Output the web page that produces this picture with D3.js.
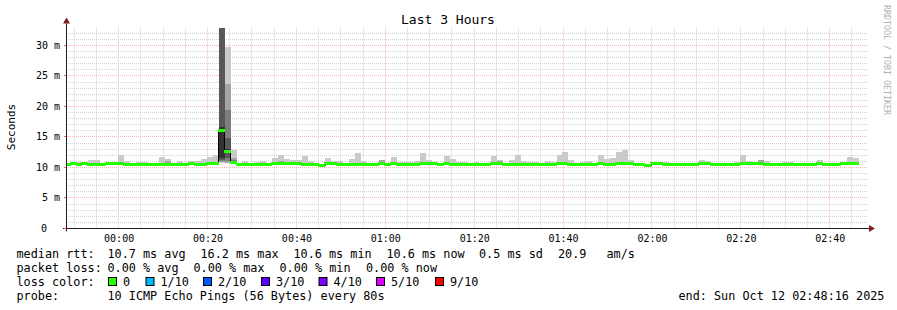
<!DOCTYPE html>
<html>
<head>
<meta charset="utf-8">
<script src="https://cdn.jsdelivr.net/npm/d3@7"></script>
<style>
body { margin: 0; background: #fff; }
text { font-family: "DejaVu Sans Mono", monospace; fill: #000; }
</style>
</head>
<body>
<div id="chart"></div>
<script>
const width = 897, height = 310;
const plot = {left: 66, right: 866, top: 27.5, bottom: 228.5};

// time window and rrd steps
const startTime = new Date(Date.UTC(2025, 9, 11, 23, 48, 16));
const endTime = new Date(Date.UTC(2025, 9, 12, 2, 48, 16));
const firstStep = new Date(Date.UTC(2025, 9, 11, 23, 47, 58));
const stepSeconds = 80;
const yMax = 32.95;

// median rtt per step (ms)
const median = [
  10.6,10.8,10.6,10.8,10.6,10.6,10.6,10.8,10.8,10.8,
  10.6,10.6,10.6,10.6,10.6,10.6,10.6,10.6,10.6,10.6,
  10.6,10.8,10.6,10.6,10.8,10.8,16.2,12.7,10.9,10.6,
  10.6,10.6,10.6,10.6,10.6,10.8,10.8,10.8,10.8,10.8,
  10.6,10.6,10.6,10.4,10.8,10.8,10.6,10.6,10.6,10.6,
  10.6,10.6,10.6,10.8,10.6,10.8,10.6,10.6,10.6,10.6,
  10.8,10.8,10.8,10.6,10.8,10.6,10.6,10.6,10.6,10.6,
  10.6,10.6,10.8,10.8,10.6,10.6,10.6,10.6,10.6,10.6,
  10.6,10.6,10.6,10.8,10.8,10.6,10.6,10.6,10.6,10.6,
  10.8,10.6,10.6,10.8,10.8,10.8,10.6,10.6,10.4,10.8,
  10.8,10.6,10.6,10.6,10.6,10.6,10.6,10.8,10.8,10.6,
  10.6,10.6,10.6,10.6,10.8,10.8,10.8,10.8,10.6,10.6,
  10.6,10.6,10.6,10.6,10.6,10.6,10.6,10.8,10.6,10.6,
  10.6,10.8,10.8,10.8
];

// highest ping per step (ms), top of the smoke
const maxPing = [
  10.7,10.9,10.9,10.9,11.25,11.3,10.8,10.9,10.9,12.0,
  11.1,10.8,10.9,10.9,10.7,10.7,11.8,11.4,10.8,11.1,
  10.8,11.0,11.1,11.4,11.8,12.0,32.95,29.8,12.9,10.7,
  11.0,10.7,10.9,11.0,10.8,11.6,12.0,11.4,11.25,11.3,
  11.9,11.1,10.7,10.6,11.6,11.0,11.1,10.8,11.4,12.45,
  11.1,10.8,10.7,11.3,10.8,11.7,10.9,10.9,10.9,11.1,
  12.3,11.3,10.8,10.8,11.9,11.4,10.9,10.9,10.7,10.9,
  10.7,10.8,11.9,11.3,10.8,11.3,12.1,11.1,10.9,10.9,
  10.7,11.1,10.9,12.0,12.5,11.3,10.7,10.9,11.1,10.7,
  12.1,11.4,11.5,12.6,12.8,11.3,10.8,10.7,10.6,10.8,
  10.8,10.9,10.7,10.7,10.7,10.7,10.7,11.3,11.1,10.7,
  10.8,10.7,10.7,10.9,12.0,11.1,10.8,11.3,11.1,10.7,
  10.7,10.9,10.9,10.7,10.7,10.7,10.7,11.3,10.8,10.7,
  10.7,10.9,11.7,11.6
];

// second highest ping where it shows as darker smoke [step, ms]
const secondPing = [[17, 11.0], [36, 11.1], [53, 11.3], [73, 11.0], [117, 11.2]];

// all ten sorted pings for the spike steps
const spikePings = {
  26: [10.7, 10.9, 11.1, 11.3, 11.6, 16.6, 40, 45, 50, 60],
  27: [10.7, 10.8, 11.0, 11.6, 12.4, 13.0, 14.8, 19.5, 23.7, 29.8],
  28: [10.7, 10.8, 10.8, 10.9, 10.9, 11.0, 11.1, 11.3, 11.6, 12.9]
};

const yTicks = [0, 5, 10, 15, 20, 25, 30];
const lossLabels = ["0", "1/10", "2/10", "3/10", "4/10", "5/10", "9/10"];
const lossColors = ["#26ff00", "#00b8ff", "#0059ff", "#5e00ff", "#7e00ff", "#dd00ff", "#ff0000"];
const smokeShades = ["#cacaca", "#a4a4a4", "#7e7e7e", "#585858", "#323232"];

const legendRows = [
  [["median rtt:", 16.5], ["10.7 ms avg", 107.5], ["16.2 ms max", 200.5], ["10.6 ms min", 293.5],
   ["10.6 ms now", 386.5], ["0.5 ms sd", 479], ["20.9", 558], ["am/s", 606.5]],
  [["packet loss:", 16.5], ["0.00 % avg", 107.5], ["0.00 % max", 193.5], ["0.00 % min", 279.5], ["0.00 % now", 366]],
  [["loss color:", 16.5]],
  [["probe:", 16.5], ["10 ICMP Echo Pings (56 Bytes) every 80s", 107.5], ["end: Sun Oct 12 02:48:16 2025", 678.5]]
];
const lossX = [108, 145.5, 203, 261, 318.5, 376, 435];

const svg = d3.select("#chart").append("svg")
  .attr("width", width).attr("height", height)
  .attr("viewBox", `0 0 ${width} ${height}`);

const x = d3.scaleUtc().domain([startTime, endTime]).range([plot.left, plot.right]);
const y = d3.scaleLinear().domain([0, yMax]).range([plot.bottom, plot.top]);
const px = v => Math.round(v) + 0.5;

// grid (under the data, like rrdtool)
const grid = svg.append("g");
d3.utcMinute.every(5).range(startTime, endTime).forEach(t => {
  const major = t.getUTCMinutes() % 20 === 0;
  grid.append("line")
    .attr("x1", px(x(t))).attr("x2", px(x(t)))
    .attr("y1", plot.top).attr("y2", plot.bottom)
    .attr("stroke", major ? "#f7b4b4" : "#d2d2d2")
    .attr("stroke-dasharray", "1,1");
});
d3.range(1, 33).forEach(v => {
  const major = v % 5 === 0;
  grid.append("line")
    .attr("x1", plot.left).attr("x2", plot.right + 1)
    .attr("y1", px(y(v) - 0.5)).attr("y2", px(y(v) - 0.5))
    .attr("stroke", major ? "#f7b4b4" : "#d2d2d2")
    .attr("stroke-dasharray", "1,1");
});

// steps
const steps = median.map((m, i) => {
  const t0 = new Date(firstStep.getTime() + i * stepSeconds * 1000);
  const t1 = new Date(t0.getTime() + stepSeconds * 1000);
  let bands;
  if (spikePings[i]) {
    const p = spikePings[i];
    bands = d3.range(5).map(k => ({lo: p[k], hi: p[9 - k], shade: k}));
  } else {
    bands = [{lo: m - 0.1, hi: maxPing[i], shade: 0}];
    const s = secondPing.find(d => d[0] === i);
    if (s) bands.push({lo: m - 0.1, hi: s[1], shade: 1});
  }
  return {t0, t1, median: m, bands};
});

svg.append("clipPath").attr("id", "clip")
  .append("rect").attr("x", plot.left + 1).attr("y", plot.top - 0.5)
  .attr("width", plot.right - plot.left).attr("height", plot.bottom - plot.top);

const data = svg.append("g").attr("clip-path", "url(#clip)");

// smoke
steps.forEach(s => {
  const x0 = Math.round(x(s.t0)), x1 = Math.round(x(s.t1));
  s.bands.forEach(b => {
    const hi = Math.min(b.hi, yMax);
    if (hi <= b.lo) return;
    data.append("rect")
      .attr("x", x0).attr("width", x1 - x0)
      .attr("y", Math.round(y(hi))).attr("height", Math.round(y(b.lo)) - Math.round(y(hi)))
      .attr("fill", smokeShades[b.shade]);
  });
});

// thin median trace (only shows where the median jumps)
const last = steps[steps.length - 1];
data.append("path")
  .datum(steps.map(s => [s.t0, s.median]).concat([[last.t1, last.median]]))
  .attr("fill", "none").attr("stroke", "#000").attr("stroke-width", 1)
  .attr("d", d3.line().x(d => px(x(d[0]) - 0.5)).y(d => px(y(d[1]))).curve(d3.curveStepAfter));

// median coloured by loss (all 0 loss)
data.selectAll(".med").data(steps).join("rect")
  .attr("class", "med")
  .attr("x", d => Math.round(x(d.t0)) - 1)
  .attr("width", d => Math.round(x(d.t1)) - Math.round(x(d.t0)) + 1)
  .attr("y", d => Math.round(y(d.median)) - 1).attr("height", 3)
  .attr("fill", lossColors[0]);

// axes
const axisColor = "#1f1f1f", arrowColor = "#7f1f1f";
svg.append("line").attr("x1", plot.left - 3).attr("x2", plot.right + 4)
  .attr("y1", plot.bottom).attr("y2", plot.bottom).attr("stroke", axisColor);
svg.append("line").attr("x1", plot.left + 0.5).attr("x2", plot.left + 0.5)
  .attr("y1", plot.bottom + 3).attr("y2", plot.top - 4).attr("stroke", axisColor);
svg.append("path").attr("fill", arrowColor)
  .attr("d", `M${plot.right + 3},${plot.bottom - 3.5}L${plot.right + 9},${plot.bottom}L${plot.right + 3},${plot.bottom + 3.5}Z`);
svg.append("path").attr("fill", arrowColor)
  .attr("d", `M${plot.left - 3},${plot.top - 4}L${plot.left + 0.5},${plot.top - 10}L${plot.left + 4},${plot.top - 4}Z`);

// y tick labels
yTicks.forEach(v => {
  svg.append("line").attr("x1", plot.left - 2).attr("x2", plot.left)
    .attr("y1", px(y(v) - 0.5)).attr("y2", px(y(v) - 0.5)).attr("stroke", "#ff5f5f");
  svg.append("text")
    .attr("x", v === 0 ? 47 : 60).attr("y", y(v) + 3.5)
    .attr("text-anchor", "end").attr("font-size", 10)
    .text(v === 0 ? "0" : v + " m");
});

// x tick labels
x.ticks(d3.utcMinute.every(20)).forEach(t => {
  svg.append("text")
    .attr("x", x(t) + 1).attr("y", 242)
    .attr("text-anchor", "middle").attr("font-size", 10)
    .text(d3.utcFormat("%H:%M")(t));
});

// titles
svg.append("text").attr("x", 448).attr("y", 24).attr("text-anchor", "middle")
  .attr("font-size", 13).text("Last 3 Hours");
svg.append("text").attr("transform", "translate(15,127) rotate(-90)")
  .attr("text-anchor", "middle").attr("font-size", 11).text("Seconds");
svg.append("text").attr("transform", "translate(884,5) rotate(90)")
  .attr("font-size", 8.3).style("fill", "#b0b0b0").text("RRDTOOL / TOBI OETIKER");

// legend
legendRows.forEach((row, r) => {
  row.forEach(([label, lx]) => {
    svg.append("text").attr("x", lx).attr("y", 258 + r * 14)
      .attr("font-size", 11.8).attr("xml:space", "preserve").text(label);
  });
});
lossLabels.forEach((lab, i) => {
  svg.append("rect").attr("x", lossX[i] + 0.5).attr("y", 277.5).attr("width", 8).attr("height", 8)
    .attr("fill", lossColors[i]).attr("stroke", "#000");
  svg.append("text").attr("x", lossX[i] + 15).attr("y", 286)
    .attr("font-size", 11.8).text(lab);
});
</script>
</body>
</html>
